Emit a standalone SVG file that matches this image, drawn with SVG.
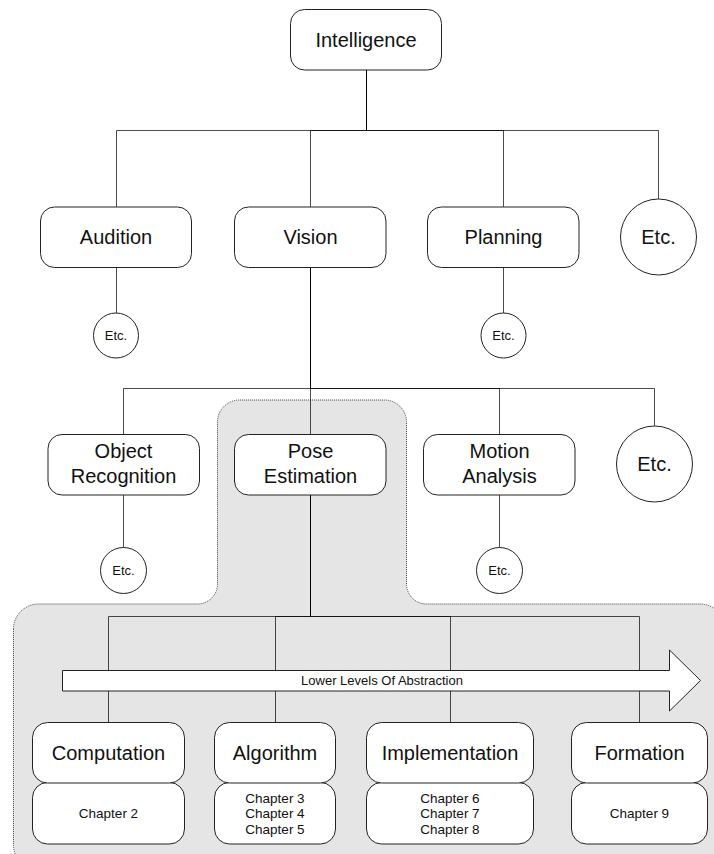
<svg xmlns="http://www.w3.org/2000/svg" width="714" height="854" viewBox="0 0 714 854">
  <style>
    .box { fill: #ffffff; stroke: #222222; stroke-width: 1; }
    .conn { fill: none; stroke: #000000; stroke-opacity: 0.7; stroke-width: 1; }
    .lbl { font-family: "Liberation Sans", Arial, Helvetica, sans-serif; fill: #111111; text-anchor: middle; }
    .big { font-size: 20px; }
    .small { font-size: 13px; }
    .chap { font-size: 13.5px; }
    .zone { fill: #e5e5e5; stroke: #444444; stroke-width: 1; stroke-dasharray: 1 1; }
  </style>

  <rect width="714" height="854" fill="#ffffff"/>

  <!-- shaded region behind Pose Estimation and its sub-levels -->
  <path id="pose-zone" class="zone" d="M13.5,629 A25,25 0 0 1 38.5,604 L197.5,604 A20,20 0 0 0 217.5,584 L217.5,422 A22,22 0 0 1 239.5,400 L384.5,400 A22,22 0 0 1 406.5,422 L406.5,584 A20,20 0 0 0 426.5,604 L700,604 A25,25 0 0 1 725,629 L725,870 L38.5,870 A25,25 0 0 1 13.5,845 Z"/>

  <!-- connectors -->
  <g id="connectors">
    <path class="conn" d="M366.5,70 V130.5 H116.5 V207.5"/>
    <path class="conn" d="M366.5,70 V130.5 H310.5 V207.5"/>
    <path class="conn" d="M366.5,70 V130.5 H503.5 V207.5"/>
    <path class="conn" d="M366.5,70 V130.5 H658.5 V199"/>
    <path class="conn" d="M116.5,267.5 V313"/>
    <path class="conn" d="M503.5,267.5 V313"/>
    <path class="conn" d="M310.5,267.5 V388.5 H123.5 V434.5"/>
    <path class="conn" d="M310.5,267.5 V388.5 H310.5 V434.5"/>
    <path class="conn" d="M310.5,267.5 V388.5 H499.5 V434.5"/>
    <path class="conn" d="M310.5,267.5 V388.5 H654.5 V426"/>
    <path class="conn" d="M123.5,495 V547.5"/>
    <path class="conn" d="M499.5,495 V547.5"/>
    <path class="conn" d="M310.5,495 V616.5 H108.5 V722.5"/>
    <path class="conn" d="M310.5,495 V616.5 H275.5 V722.5"/>
    <path class="conn" d="M310.5,495 V616.5 H450.5 V722.5"/>
    <path class="conn" d="M310.5,495 V616.5 H639.5 V722.5"/>
  </g>

  <!-- level 0 -->
  <g id="intelligence">
    <rect class="box" x="290.5" y="9.5" width="151" height="60.5" rx="14"/>
    <text class="lbl big" x="366" y="47">Intelligence</text>
  </g>

  <!-- level 1 -->
  <g id="audition">
    <rect class="box" x="40.5" y="207" width="151" height="60.5" rx="14"/>
    <text class="lbl big" x="116" y="244">Audition</text>
  </g>
  <g id="vision">
    <rect class="box" x="234.5" y="207" width="151.5" height="60.5" rx="14"/>
    <text class="lbl big" x="310.5" y="244">Vision</text>
  </g>
  <g id="planning">
    <rect class="box" x="427.5" y="207" width="151.5" height="60.5" rx="14"/>
    <text class="lbl big" x="503.5" y="244">Planning</text>
  </g>
  <g id="etc-1">
    <circle class="box" cx="658.5" cy="237" r="38"/>
    <text class="lbl big" x="658.5" y="244">Etc.</text>
  </g>
  <g id="audition-etc">
    <circle class="box" cx="116" cy="335.5" r="22.5"/>
    <text class="lbl small" x="116" y="340">Etc.</text>
  </g>
  <g id="planning-etc">
    <circle class="box" cx="503.5" cy="335.5" r="22.5"/>
    <text class="lbl small" x="503.5" y="340">Etc.</text>
  </g>

  <!-- level 2 -->
  <g id="object-recognition">
    <rect class="box" x="48" y="434.5" width="151.5" height="60.5" rx="14"/>
    <text class="lbl big" x="123.5" y="458">Object</text>
    <text class="lbl big" x="123.5" y="483">Recognition</text>
  </g>
  <g id="pose-estimation">
    <rect class="box" x="234.5" y="434.5" width="151.5" height="60.5" rx="14"/>
    <text class="lbl big" x="310.5" y="458">Pose</text>
    <text class="lbl big" x="310.5" y="483">Estimation</text>
  </g>
  <g id="motion-analysis">
    <rect class="box" x="423.5" y="434.5" width="151.5" height="60.5" rx="14"/>
    <text class="lbl big" x="499.5" y="458">Motion</text>
    <text class="lbl big" x="499.5" y="483">Analysis</text>
  </g>
  <g id="etc-2">
    <circle class="box" cx="654.5" cy="464" r="38"/>
    <text class="lbl big" x="654.5" y="471">Etc.</text>
  </g>
  <g id="object-etc">
    <circle class="box" cx="123.5" cy="570.5" r="23"/>
    <text class="lbl small" x="123.5" y="575">Etc.</text>
  </g>
  <g id="motion-etc">
    <circle class="box" cx="499.5" cy="570.5" r="23"/>
    <text class="lbl small" x="499.5" y="575">Etc.</text>
  </g>

  <!-- abstraction arrow -->
  <g id="abstraction-arrow">
    <polygon class="box" points="62.5,670.5 669.5,670.5 669.5,650 700.5,680.5 669.5,711 669.5,691 62.5,691"/>
    <text class="lbl small" x="382" y="685">Lower Levels Of Abstraction</text>
  </g>

  <!-- level 3 -->
  <g id="computation">
    <rect class="box" x="32.5" y="782.5" width="152" height="61.5" rx="15"/>
    <rect class="box" x="32.5" y="722.5" width="152" height="60.5" rx="15"/>
    <text class="lbl big" x="108.5" y="760">Computation</text>
    <text class="lbl chap" x="108.5" y="818">Chapter 2</text>
  </g>
  <g id="algorithm">
    <rect class="box" x="214.5" y="782.5" width="121" height="61.5" rx="15"/>
    <rect class="box" x="214.5" y="722.5" width="121" height="60.5" rx="15"/>
    <text class="lbl big" x="275" y="760">Algorithm</text>
    <text class="lbl chap" x="275" y="802.5">Chapter 3</text>
    <text class="lbl chap" x="275" y="818.3">Chapter 4</text>
    <text class="lbl chap" x="275" y="834">Chapter 5</text>
  </g>
  <g id="implementation">
    <rect class="box" x="366.5" y="782.5" width="167" height="61.5" rx="15"/>
    <rect class="box" x="366.5" y="722.5" width="167" height="60.5" rx="15"/>
    <text class="lbl big" x="450" y="760">Implementation</text>
    <text class="lbl chap" x="450" y="802.5">Chapter 6</text>
    <text class="lbl chap" x="450" y="818.3">Chapter 7</text>
    <text class="lbl chap" x="450" y="834">Chapter 8</text>
  </g>
  <g id="formation">
    <rect class="box" x="571.5" y="782.5" width="136" height="61.5" rx="15"/>
    <rect class="box" x="571.5" y="722.5" width="136" height="60.5" rx="15"/>
    <text class="lbl big" x="639.5" y="760">Formation</text>
    <text class="lbl chap" x="639.5" y="818">Chapter 9</text>
  </g>
</svg>
